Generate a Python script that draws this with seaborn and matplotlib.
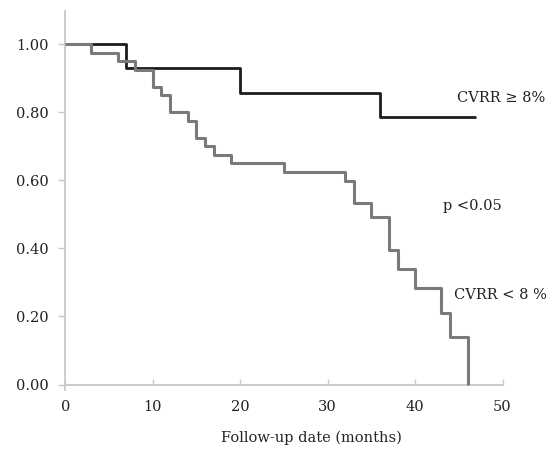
import matplotlib
matplotlib.use("Agg")
import matplotlib.pyplot as plt
import seaborn as sns
import pandas as pd

# Kaplan-Meier style survival curves
high_time = [0, 7, 20, 36, 47]
high_surv = [1.0, 0.929, 0.857, 0.786, 0.786]

low_time = [0, 3, 6, 8, 10, 11, 12, 14, 15, 16, 17, 19, 25, 32, 33, 35, 37, 38, 40, 43, 44, 46]
low_surv = [1.0, 0.975, 0.95, 0.925, 0.875, 0.85, 0.80, 0.775, 0.725, 0.70, 0.675, 0.65,
            0.625, 0.598, 0.532, 0.493, 0.395, 0.338, 0.282, 0.211, 0.141, 0.0]

x_ticks = [0, 10, 20, 30, 40, 50]
y_ticks = [0.0, 0.2, 0.4, 0.6, 0.8, 1.0]
y_labels = ["0.00", "0.20", "0.40", "0.60", "0.80", "1.00"]

sns.set_style("white")
plt.rcParams["font.family"] = ["DejaVu Serif"]

fig = plt.figure(figsize=(5.53, 4.55), dpi=100)
ax = fig.add_axes([0.118, 0.1437, 0.7907, 0.8321])

df_low = pd.DataFrame({"t": low_time, "s": low_surv})
df_high = pd.DataFrame({"t": high_time, "s": high_surv})
sns.lineplot(data=df_high, x="t", y="s", drawstyle="steps-post", color="#1c1c1c",
             linewidth=2.0, ax=ax, solid_capstyle="butt", zorder=2)
sns.lineplot(data=df_low, x="t", y="s", drawstyle="steps-post", color="#7a7a7a",
             linewidth=2.2, ax=ax, solid_capstyle="butt", zorder=3)

ax.set_xlim(0, 50)
ax.set_ylim(-0.015, 1.097)
ax.set_xticks(x_ticks)
ax.set_yticks(y_ticks)
ax.set_yticklabels(y_labels)
ax.set_xlabel("Follow-up date (months)", fontsize=10.5, labelpad=12)
ax.xaxis.label.set_x(0.562)
ax.set_ylabel("")

for side in ["top", "right"]:
    ax.spines[side].set_visible(False)
ax.spines["bottom"].set_position(("data", 0))
for side in ["left", "bottom"]:
    ax.spines[side].set_color("#c8c8c8")
    ax.spines[side].set_linewidth(1.3)

ax.tick_params(axis="y", direction="out", length=5, width=1, color="#c8c8c8",
               labelsize=10.5, pad=7, left=True, labelcolor="#222222")
ax.tick_params(axis="x", direction="in", length=4, width=1, color="#c8c8c8",
               labelsize=10.5, pad=11, bottom=True, labelcolor="#222222")

ax.text(44.8, 0.841, "CVRR \u2265 8%", fontsize=10.5, va="center", ha="left", color="#222222")
ax.text(43.2, 0.524, "p <0.05", fontsize=10.5, va="center", ha="left", color="#222222")
ax.text(44.45, 0.263, "CVRR < 8 %", fontsize=10.5, va="center", ha="left", color="#222222")

fig.savefig("out.png", dpi=100)
